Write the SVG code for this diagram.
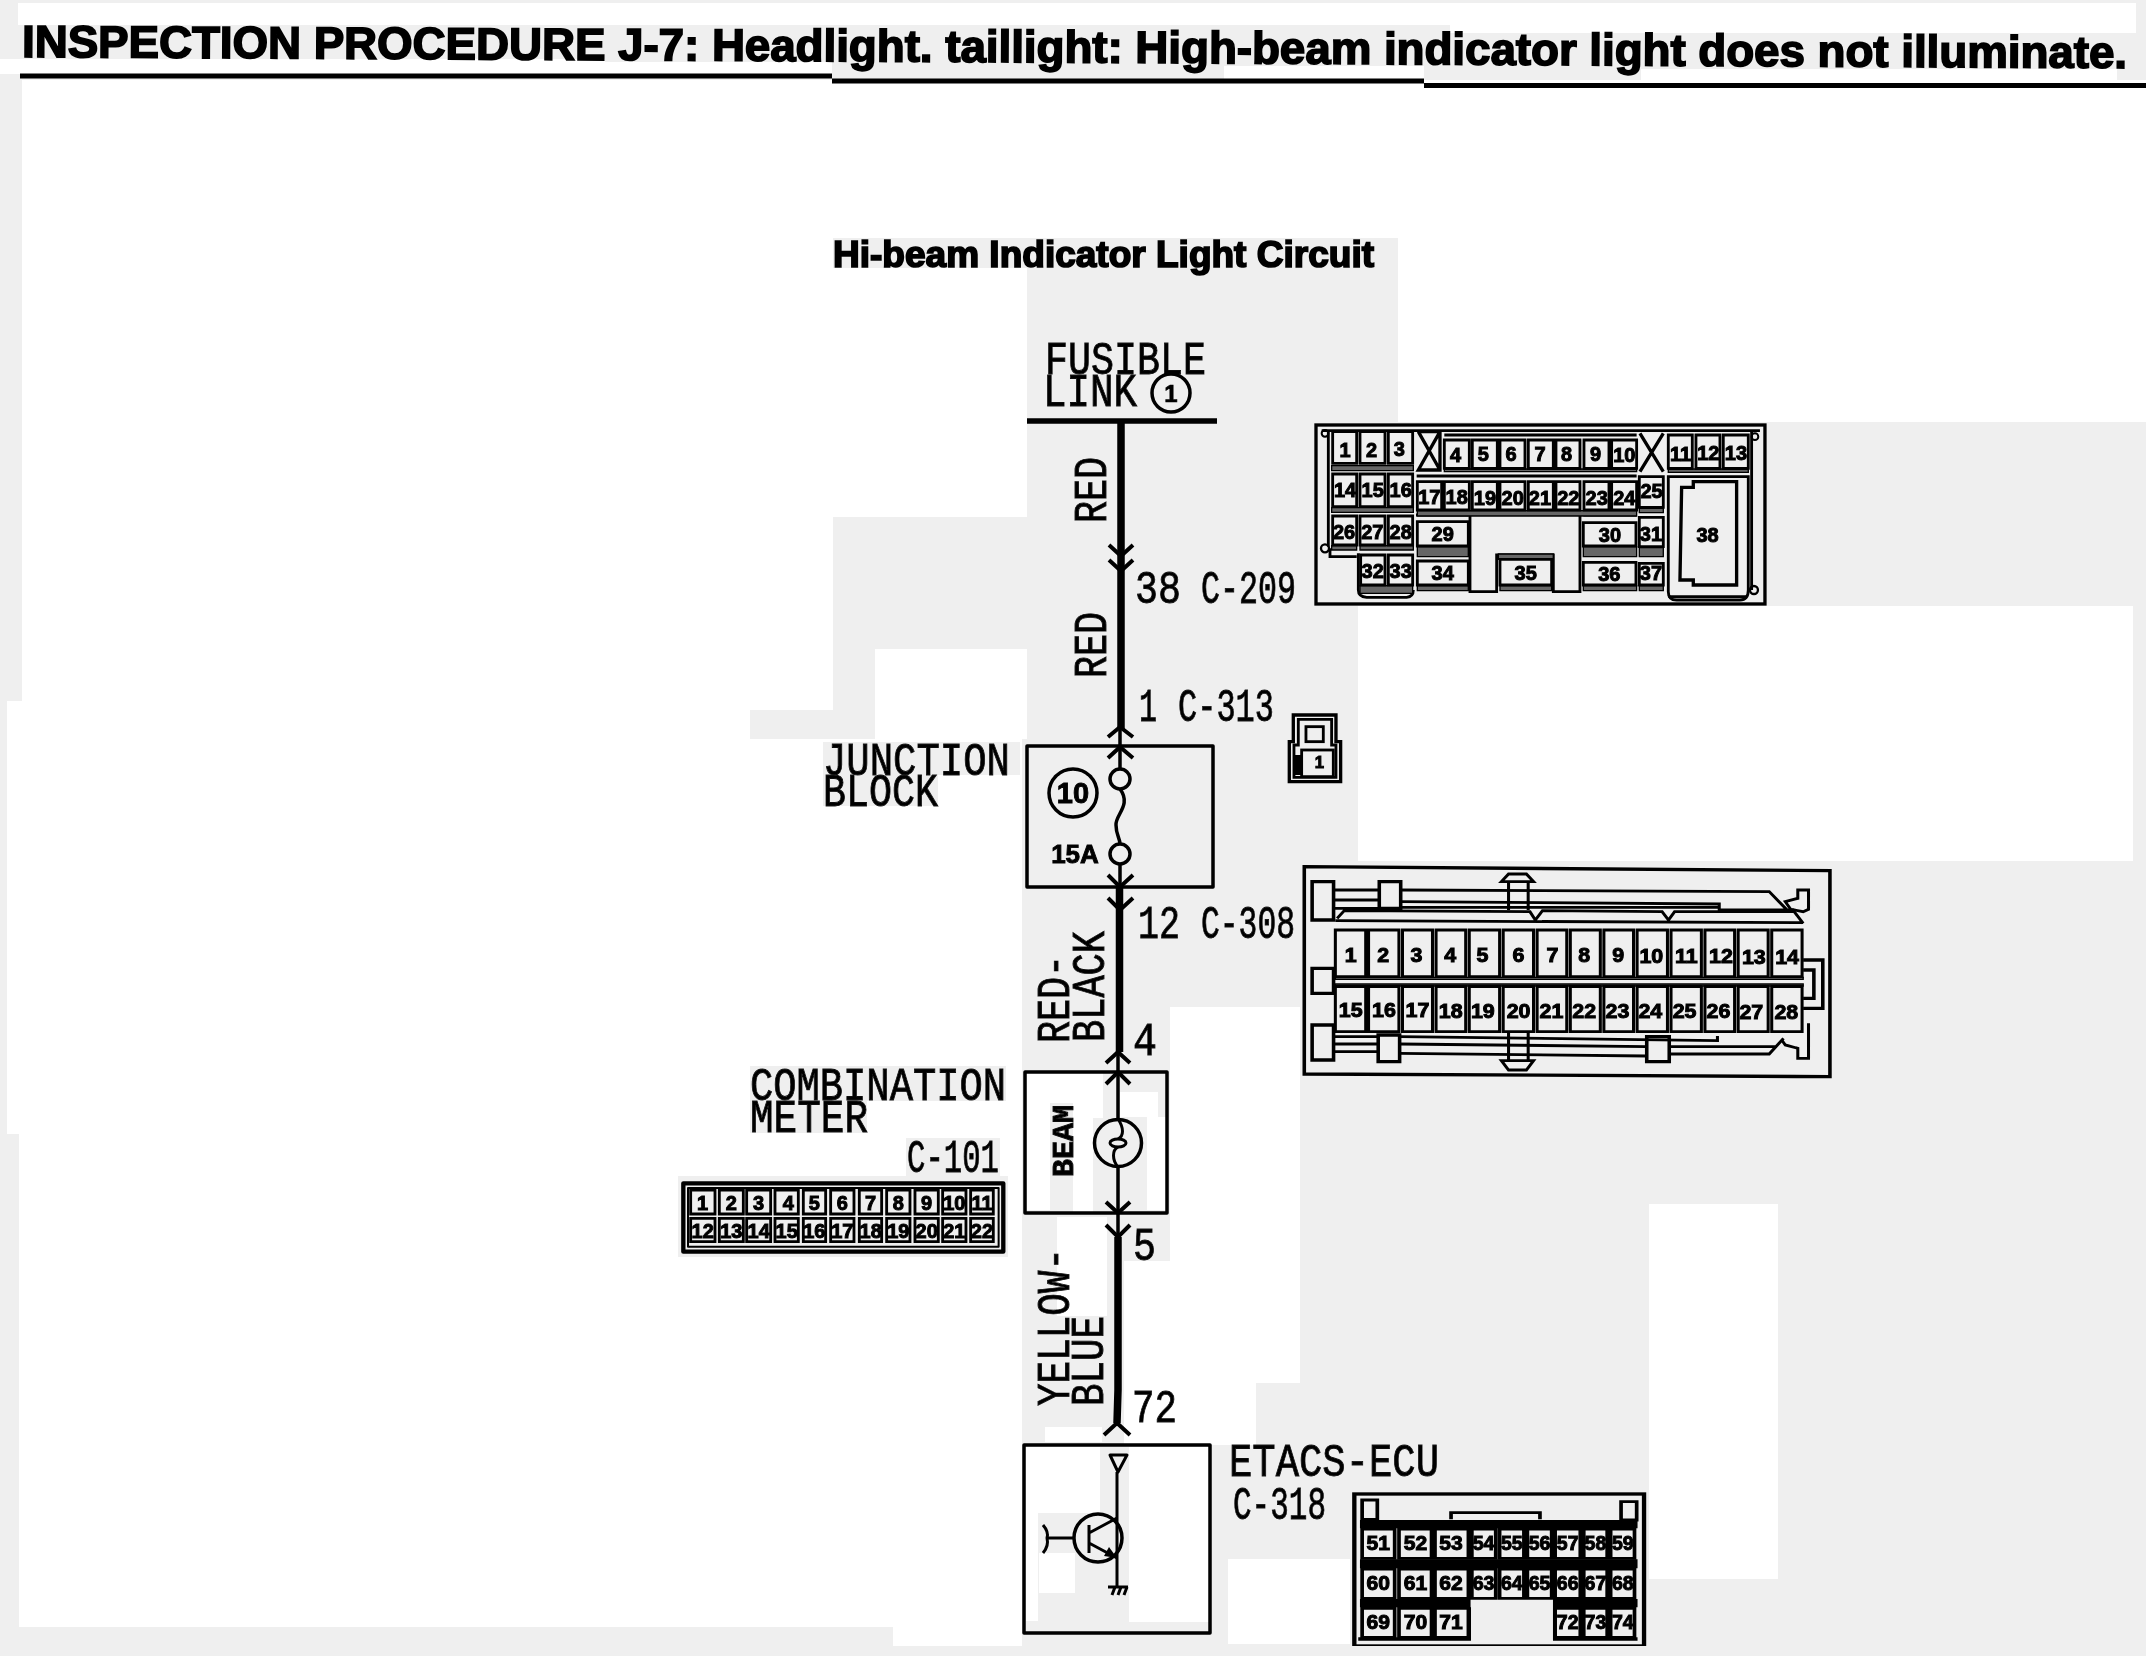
<svg xmlns="http://www.w3.org/2000/svg" width="2146" height="1656" viewBox="0 0 2146 1656">
<defs>
<filter id="soft" x="0" y="0" width="1" height="1" filterUnits="objectBoundingBox"><feGaussianBlur stdDeviation="0.6"/></filter>
</defs>
<style>
.w{fill:#fff}.g{fill:#efefef}
text{fill:#000}
.t{font-family:"Liberation Sans",Arial,sans-serif;font-weight:700;stroke:#000;stroke-width:1.7}
.m{font-family:"Liberation Mono","Courier New",monospace;font-size:47px;stroke:#111;stroke-width:.9}
.n{font-family:"Liberation Sans",Arial,sans-serif;font-weight:700;text-anchor:middle;font-size:60px;stroke:#000;stroke-width:3}
.s{fill:none;stroke:#000;stroke-linejoin:round}
.c{fill:none;stroke:#000;stroke-width:10}
.l{fill:none;stroke:#000;stroke-width:8.500}
.b{fill:#666;stroke:#000;stroke-width:4}
.k{fill:#000}
.wire{fill:none;stroke:#000}
.chev{fill:none;stroke:#000;stroke-width:4}
</style>
<rect class="g" width="2146" height="1656"/>
<g id="background">
<rect class="w" x="18" y="3" width="2118" height="22"/><rect class="w" x="1450" y="25" width="686" height="8"/>
<rect class="w" x="0" y="59" width="605" height="15"/><rect class="w" x="605" y="62" width="227" height="12"/><rect class="w" x="1224" y="66" width="200" height="13"/><rect class="w" x="1641" y="69" width="476" height="13"/>
<rect class="w" x="22" y="80" width="2124" height="158"/>
<rect class="w" x="22" y="238" width="811" height="463"/>
<rect class="w" x="833" y="268" width="194" height="249"/>
<rect class="w" x="875" y="649" width="152" height="90"/>
<rect class="w" x="7" y="701" width="743" height="433"/><rect class="w" x="750" y="701" width="83" height="9"/>
<rect class="w" x="750" y="739" width="272" height="395"/>
<rect class="w" x="19" y="1134" width="1003" height="493"/>
<rect class="w" x="893" y="1627" width="129" height="19"/>
<rect class="g" x="823" y="742" width="197" height="33"/><rect class="g" x="823" y="775" width="115" height="31"/>
<rect class="g" x="750" y="1066" width="256" height="35"/><rect class="g" x="750" y="1101" width="117" height="32"/>
<rect class="g" x="906" y="1138" width="94" height="38"/><rect class="g" x="678" y="1176" width="330" height="81"/>
<rect class="w" x="1398" y="238" width="748" height="184"/>
<rect class="w" x="1358" y="606" width="775" height="255"/>
<rect class="w" x="1170" y="1007" width="130" height="254"/><rect class="w" x="1124" y="1261" width="176" height="122"/><rect class="w" x="1124" y="1383" width="132" height="62"/>
<rect class="w" x="1057" y="1217" width="50" height="99"/><rect class="w" x="1045" y="1427" width="57" height="15"/>
<rect class="g" x="1123" y="1230" width="47" height="30"/>
<rect class="w" x="1649" y="1204" width="129" height="375"/>
<rect class="w" x="1228" y="1559" width="122" height="85"/>
<rect class="w" x="1027" y="1073" width="23" height="137"/><rect class="w" x="1027" y="1073" width="76" height="30"/><rect class="w" x="1073" y="1103" width="20" height="109"/><rect class="w" x="1093" y="1073" width="10" height="45"/>
<rect class="w" x="1120" y="1092" width="38" height="25"/><rect class="w" x="1147" y="1117" width="20" height="93"/>
<rect class="w" x="1129" y="1447" width="81" height="175"/><rect class="w" x="1026" y="1447" width="74" height="66"/><rect class="w" x="1026" y="1513" width="12" height="108"/><rect class="w" x="1039" y="1553" width="36" height="40"/>
</g>
<g filter="url(#soft)">
<g id="title">
<text class="t" font-size="45" transform="rotate(.3 22 57)" x="22" y="57" textLength="2105" lengthAdjust="spacingAndGlyphs">INSPECTION PROCEDURE J-7: Headlight. taillight: High-beam indicator light does not illuminate.</text>
<path class="s" stroke-width="5" d="M20,76H832M832,81H1424"/><path class="s" stroke-width="5" d="M1424,85.500H2146"/>
<text class="t" font-size="36" x="833" y="267" textLength="541" lengthAdjust="spacingAndGlyphs">Hi-beam Indicator Light Circuit</text>
</g>
<g id="connectors">
<path class="wire" stroke-width="7.500" d="M1121,421V729M1119.500,887V1052M1118,1237V1390L1117,1423"/>
<path class="wire" stroke-width="3.500" d="M1120,729V769M1120,864V887M1118,1052V1119M1118,1167V1237"/>
<path class="chev" d="M1109,545L1121,556L1133,545M1109,560L1121,571L1133,560"/>
<path class="chev" d="M1108,737L1120,727L1133,737M1108,758L1120,747L1133,758"/>
<path class="chev" d="M1108,875L1120,887L1133,875M1108,898L1120,910L1133,898"/>
<path class="chev" d="M1106,1063L1118,1052L1130,1063M1106,1084L1118,1072L1130,1084"/>
<path class="chev" d="M1106,1202L1118,1213L1130,1202M1106,1225L1118,1237L1130,1225"/>
<path class="chev" d="M1104,1435L1117,1423L1130,1435"/>
</g>
<g id="fusible-link">
<path class="s" stroke-width="5.500" d="M1027,421H1217"/>
<text class="m" x="1045" y="374" textLength="161" lengthAdjust="spacingAndGlyphs">FUSIBLE</text>
<text class="m" x="1043" y="406" textLength="94" lengthAdjust="spacingAndGlyphs">LINK</text>
<circle class="s" stroke-width="3.500" cx="1171" cy="393" r="19"/>
<text class="n" style="font-size:24px;stroke-width:.6" x="1171" y="402">1</text>
</g>
<g id="wire-labels">
<text class="m" transform="translate(1106,523) rotate(-90)" textLength="66" lengthAdjust="spacingAndGlyphs">RED</text>
<text class="m" transform="translate(1106,678) rotate(-90)" textLength="66" lengthAdjust="spacingAndGlyphs">RED</text>
<text class="m" transform="translate(1069,1043) rotate(-90)" textLength="88" lengthAdjust="spacingAndGlyphs">RED-</text>
<text class="m" transform="translate(1104,1042) rotate(-90)" textLength="111" lengthAdjust="spacingAndGlyphs">BLACK</text>
<text class="m" transform="translate(1069,1406) rotate(-90)" textLength="158" lengthAdjust="spacingAndGlyphs">YELLOW-</text>
<text class="m" transform="translate(1103,1406) rotate(-90)" textLength="90" lengthAdjust="spacingAndGlyphs">BLUE</text>
<text class="m" x="1135" y="603" textLength="46" lengthAdjust="spacingAndGlyphs">38</text>
<text class="m" x="1201" y="603" textLength="95" lengthAdjust="spacingAndGlyphs">C-209</text>
<text class="m" x="1139" y="721" textLength="18" lengthAdjust="spacingAndGlyphs">1</text>
<text class="m" x="1178" y="721" textLength="96" lengthAdjust="spacingAndGlyphs">C-313</text>
<text class="m" x="1138" y="938" textLength="42" lengthAdjust="spacingAndGlyphs">12</text>
<text class="m" x="1201" y="938" textLength="94" lengthAdjust="spacingAndGlyphs">C-308</text>
<text class="m" x="1133" y="1055" textLength="24" lengthAdjust="spacingAndGlyphs">4</text>
<text class="m" x="1133" y="1260" textLength="23" lengthAdjust="spacingAndGlyphs">5</text>
<text class="m" x="1132" y="1422" textLength="45" lengthAdjust="spacingAndGlyphs">72</text>
</g>
<g id="junction-block">
<rect class="s" stroke-width="3.500" x="1027" y="746" width="186" height="141"/>
<text class="m" x="823" y="775" textLength="187" lengthAdjust="spacingAndGlyphs">JUNCTION</text>
<text class="m" x="823" y="806" textLength="115" lengthAdjust="spacingAndGlyphs">BLOCK</text>
<circle class="s" stroke-width="3.500" cx="1073" cy="793" r="24"/>
<text class="n" style="font-size:29px;stroke-width:.9" x="1073" y="803">10</text>
<text class="n" style="font-size:26px;stroke-width:.9" x="1075" y="863">15A</text>
<circle class="s" stroke-width="3.500" cx="1120" cy="779" r="10"/><circle class="s" stroke-width="3.500" cx="1120" cy="854" r="10"/>
<path class="s" stroke-width="3.500" d="M1120,789C1132,805 1115,815 1116,825C1116,835 1120,838 1120,844"/>
</g>
<g id="connector-c313" transform="translate(1000,700) scale(.3333)">
<path class="c" d="M880,45H1008V125H1022V245H868V125H880Z"/><path class="l" d="M895,58H995V135H1008V232H882V135H895Z"/>
<rect class="l" x="918" y="80" width="52" height="45"/><rect class="l" x="905" y="150" width="95" height="80"/>
<rect class="k" x="885" y="165" width="20" height="60"/>
<text class="n" style="font-size:50px" x="958" y="205">1</text>
</g>
<g id="connector-c209" transform="translate(1290,400) scale(.3333)">
<rect class="c" x="78" y="75" width="1347" height="537"/>
<path class="l" d="M95,92H1410M463,105H1040M380,228H1040M115,95V440M1385,95V570M120,445L120,470L200,470M205,460V570Q205,590 230,592H350Q370,590 370,570M378,345H535M880,345H1040M540,345V575H620V465H790V575H870V345M1135,590L1370,590"/>
<circle class="s" stroke-width="6" cx="105" cy="100" r="10"/><circle class="s" stroke-width="6" cx="1395" cy="110" r="10"/><circle class="s" stroke-width="7" cx="105" cy="445" r="12"/><circle class="s" stroke-width="7" cx="1392" cy="570" r="12"/>
<path class="b" d="M125,197H370V212H125ZM463,207H1040V215H463ZM1135,207H1375V217H1135ZM125,323H370V337H125ZM382,332H1040V348H382ZM125,437H200V450H125ZM210,437H370V450H210ZM382,440H535V470H382ZM880,440H1040V470H880ZM1048,325H1120V338H1048ZM1048,443H1120V470H1048ZM210,557H368V580H210ZM382,557H535V572H382ZM630,557H785V572H630ZM880,557H1040V572H880ZM1048,557H1120V572H1048ZM625,462H790V478H625Z"/>
<g class="l"><path d="M128,95H200V190H128ZM210,95H285V190H210ZM295,95H368V190H295ZM463,120H538V205H463ZM547,120H622V205H547ZM630,120H705V205H630ZM715,120H790V205H715ZM798,120H870V205H798ZM882,120H957V205H882ZM965,120H1040V205H965ZM1135,105H1207V205H1135ZM1218,105H1290V205H1218ZM1300,105H1375V205H1300ZM128,222H200V320H128ZM210,222H285V320H210ZM295,222H368V320H295ZM382,245H455V330H382ZM463,245H538V330H463ZM547,245H622V330H547ZM630,245H705V330H630ZM715,245H790V330H715ZM798,245H870V330H798ZM882,245H957V330H882ZM965,245H1040V330H965ZM1048,230H1120V322H1048ZM128,348H200V435H128ZM210,348H285V435H210ZM295,348H368V435H295ZM382,365H535V438H382ZM880,368H1038V438H880ZM1048,352H1120V440H1048ZM212,465H285V555H212ZM295,465H368V555H295ZM382,483H535V555H382ZM630,478H785V555H630ZM880,487H1038V555H880ZM1048,490H1120V555H1048Z"/></g>
<path class="c" d="M385,95L450,210M450,95L385,210H450V95H385ZM1050,100L1120,215M1120,100L1050,215"/>
<path class="l" d="M1135,230H1375V570Q1375,600 1350,600H1160Q1135,600 1135,575Z"/>
<path class="c" d="M1175,262H1210V245H1340V555H1210V540H1170Z"/>
<g class="n"><text x="165" y="170">1</text><text x="245" y="170">2</text><text x="328" y="167">3</text><text x="497" y="187">4</text><text x="580" y="184">5</text><text x="663" y="184">6</text><text x="750" y="182">7</text><text x="830" y="184">8</text><text x="917" y="184">9</text><text x="1003" y="187">10</text><text x="1172" y="182">11</text><text x="1255" y="179">12</text><text x="1338" y="179">13</text>
<text x="165" y="290">14</text><text x="248" y="290">15</text><text x="332" y="290">16</text><text x="418" y="312">17</text><text x="500" y="312">18</text><text x="585" y="314">19</text><text x="668" y="314">20</text><text x="750" y="314">21</text><text x="835" y="314">22</text><text x="920" y="314">23</text><text x="1003" y="314">24</text><text x="1085" y="295">25</text>
<text x="162" y="417">26</text><text x="247" y="417">27</text><text x="332" y="417">28</text><text x="458" y="424">29</text><text x="960" y="425">30</text><text x="1083" y="424">31</text><text x="1253" y="425">38</text>
<text x="248" y="535">32</text><text x="332" y="535">33</text><text x="458" y="540">34</text><text x="707" y="540">35</text><text x="958" y="542">36</text><text x="1083" y="540">37</text></g>
</g>
<g id="connector-c308" transform="translate(1280,850) scale(.3571,.3333)">
<path class="c" d="M68,50L1540,62V680L68,672Z"/>
<path class="c" d="M90,95H150V210H90ZM90,355H150V430H90ZM90,525H150V630H90ZM278,95H338V175H278ZM275,555H335V635H275ZM1027,560H1090V635H1027Z"/>
<path class="l" d="M620,95L640,72H690L710,95ZM640,95V180M695,95V180M620,632L640,660H690L710,632ZM640,548V632M695,548V632"/>
<path class="l" d="M150,120H278M338,120L1370,125L1420,180M150,150H278M338,155L1230,162V180H1440M150,175H278M338,172H1230M160,205L180,182L700,185L715,210L735,182L1070,185L1088,210L1105,185L1440,185L1465,220M155,212L1465,218M150,560H275M335,560L1225,572V558M150,582H275M335,582L1027,590M150,605H275M335,610L1027,618M1090,590L1390,590M1090,612H1370L1410,565"/>
<path class="l" d="M1480,120V178L1465,185L1430,178L1415,155L1450,145V120ZM1480,520V625H1450V595L1415,585L1405,570"/>
<path class="c" d="M1465,330H1520V475H1465M1465,360H1495V445H1465"/>
<path class="b" d="M155,382H1465V388H155ZM155,402H1465V408H155Z"/>
<g class="l"><path d="M155,240H240V380H155ZM248,240H333V380H248ZM343,240H427V380H343ZM437,240H520V380H437ZM530,240H615V380H530ZM625,240H710V380H625ZM720,240H803V380H720ZM813,240H897V380H813ZM907,240H990V380H907ZM1000,240H1085V380H1000ZM1095,240H1180V380H1095ZM1190,240H1273V380H1190ZM1283,240H1367V380H1283ZM1377,240H1462V380H1377Z"/>
<path d="M155,410H240V545H155ZM248,410H333V545H248ZM343,410H427V545H343ZM437,410H520V545H437ZM530,410H615V545H530ZM625,410H710V545H625ZM720,410H803V545H720ZM813,410H897V545H813ZM907,410H990V545H907ZM1000,410H1085V545H1000ZM1095,410H1180V545H1095ZM1190,410H1273V545H1190ZM1283,410H1367V545H1283ZM1377,410H1462V545H1377Z"/></g>
<g class="n"><text x="198" y="335">1</text><text x="289" y="335">2</text><text x="382" y="335">3</text><text x="477" y="335">4</text><text x="567" y="335">5</text><text x="668" y="337">6</text><text x="763" y="335">7</text><text x="852" y="337">8</text><text x="947" y="337">9</text><text x="1040" y="339">10</text><text x="1138" y="339">11</text><text x="1235" y="340">12</text><text x="1327" y="341">13</text><text x="1420" y="341">14</text>
<text x="198" y="500">15</text><text x="291" y="501">16</text><text x="385" y="501">17</text><text x="478" y="503">18</text><text x="568" y="503">19</text><text x="668" y="505">20</text><text x="760" y="505">21</text><text x="852" y="505">22</text><text x="945" y="505">23</text><text x="1037" y="505">24</text><text x="1133" y="505">25</text><text x="1228" y="505">26</text><text x="1320" y="507">27</text><text x="1418" y="507">28</text></g>
</g>
<g id="combination-meter">
<rect class="s" stroke-width="3.500" x="1025" y="1072" width="142" height="141"/>
<text class="m" x="750" y="1100" textLength="256" lengthAdjust="spacingAndGlyphs">COMBINATION</text>
<text class="m" x="750" y="1132" textLength="118" lengthAdjust="spacingAndGlyphs">METER</text>
<text class="m" x="907" y="1172" textLength="92" lengthAdjust="spacingAndGlyphs">C-101</text>
<text class="m" style="font-size:29px;font-weight:700" transform="translate(1073,1177) rotate(-90)" textLength="72" lengthAdjust="spacingAndGlyphs">BEAM</text>
<circle class="s" stroke-width="3.500" cx="1118" cy="1143" r="23.500"/>
<ellipse class="s" stroke-width="3" cx="1118" cy="1143" rx="8" ry="4"/>
<path class="s" stroke-width="3" d="M1118,1119C1124,1128 1124,1136 1118,1139M1118,1147C1112,1150 1112,1160 1118,1167"/>
</g>
<g id="connector-c101" transform="translate(660,1040) scale(.3333)">
<rect class="s" stroke-width="13" x="70" y="430" width="960" height="205"/><rect class="s" stroke-width="6" x="84" y="444" width="932" height="176"/>
<path class="l" d="M92,450H165V522H92ZM178,450H250V522H178ZM260,450H332V522H260ZM345,450H415V522H345ZM430,450H497V522H430ZM512,450H582V522H512ZM598,450H665V522H598ZM680,450H750V522H680ZM765,450H835V522H765ZM848,450H918V522H848ZM932,450H1000V522H932Z"/>
<path class="l" d="M92,535H165V605H92ZM178,535H250V605H178ZM260,535H332V605H260ZM345,535H415V605H345ZM430,535H497V605H430ZM512,535H582V605H512ZM598,535H665V605H598ZM680,535H750V605H680ZM765,535H835V605H765ZM848,535H918V605H848ZM932,535H1000V605H932Z"/>
<g class="n"><text x="128" y="510">1</text><text x="214" y="510">2</text><text x="296" y="510">3</text><text x="385" y="510">4</text><text x="463" y="510">5</text><text x="547" y="510">6</text><text x="632" y="510">7</text><text x="715" y="510">8</text><text x="800" y="510">9</text><text x="883" y="510">10</text><text x="966" y="510">11</text>
<text x="128" y="593">12</text><text x="214" y="593">13</text><text x="296" y="593">14</text><text x="380" y="593">15</text><text x="463" y="593">16</text><text x="547" y="593">17</text><text x="632" y="593">18</text><text x="715" y="593">19</text><text x="800" y="593">20</text><text x="883" y="593">21</text><text x="966" y="593">22</text></g>
</g>
<g id="etacs-ecu">
<rect class="s" stroke-width="3.500" x="1024" y="1445" width="186" height="188"/>
<text class="m" x="1229" y="1476" textLength="210" lengthAdjust="spacingAndGlyphs">ETACS-ECU</text>
<text class="m" x="1233" y="1519" textLength="93" lengthAdjust="spacingAndGlyphs">C-318</text>
<path class="s" stroke-width="3" d="M1110,1455H1127L1118,1472ZM1117,1472V1587M1108,1587H1128M1112,1595L1115,1587M1118,1595L1121,1587M1124,1595L1127,1587"/>
<circle class="s" stroke-width="3.500" cx="1098" cy="1538" r="24"/>
<path class="s" stroke-width="3" d="M1043,1525Q1049,1532 1047,1538Q1049,1546 1043,1553M1047,1538H1074M1089,1525V1553M1089,1533L1117,1518M1089,1543L1117,1558"/>
<path class="k" d="M1117,1558L1104,1556L1109,1547Z"/>
</g>
<g id="connector-c318" transform="translate(1000,1400) scale(.4337,.3333)">
<rect class="c" stroke-width="13" x="817" y="282" width="668" height="456"/>
<path class="l" d="M835,300H870V358H835ZM1432,305H1468V360H1432ZM1040,358V338H1245V358"/>
<path class="k" d="M830,360H1470V385H830ZM830,478H1470V505H830ZM830,597H1085V622H830ZM1275,597H1470V622H1275ZM826,712H1085V722H826ZM1275,712H1470V722H1275ZM1275,622H1283V722H1275ZM1078,622H1086V722H1078Z"/>
<path class="l" d="M835,387H910V475H835ZM920,387H995V475H920ZM1003,387H1080V475H1003ZM1088,387H1143V475H1088ZM1152,387H1208V475H1152ZM1216,387H1272V475H1216ZM1280,387H1338V475H1280ZM1346,387H1400V475H1346ZM1408,387H1463V475H1408Z"/>
<path class="l" d="M835,507H910V595H835ZM920,507H995V595H920ZM1003,507H1080V595H1003ZM1088,507H1143V595H1088ZM1152,507H1208V595H1152ZM1216,507H1272V595H1216ZM1280,507H1338V595H1280ZM1346,507H1400V595H1346ZM1408,507H1463V595H1408Z"/>
<path class="l" d="M835,625H910V712H835ZM920,625H995V712H920ZM1003,625H1080V712H1003ZM1280,625H1338V712H1280ZM1346,625H1400V712H1346ZM1408,625H1463V712H1408Z"/>
<g class="n" style="font-size:58px"><text x="872" y="450" textLength="54" lengthAdjust="spacingAndGlyphs">51</text><text x="958" y="450" textLength="54" lengthAdjust="spacingAndGlyphs">52</text><text x="1040" y="450" textLength="54" lengthAdjust="spacingAndGlyphs">53</text><text x="1115" y="450" textLength="50" lengthAdjust="spacingAndGlyphs">54</text><text x="1180" y="450" textLength="50" lengthAdjust="spacingAndGlyphs">55</text><text x="1244" y="450" textLength="50" lengthAdjust="spacingAndGlyphs">56</text><text x="1309" y="450" textLength="50" lengthAdjust="spacingAndGlyphs">57</text><text x="1373" y="450" textLength="50" lengthAdjust="spacingAndGlyphs">58</text><text x="1436" y="450" textLength="50" lengthAdjust="spacingAndGlyphs">59</text>
<text x="872" y="570" textLength="54" lengthAdjust="spacingAndGlyphs">60</text><text x="958" y="570" textLength="54" lengthAdjust="spacingAndGlyphs">61</text><text x="1040" y="570" textLength="54" lengthAdjust="spacingAndGlyphs">62</text><text x="1115" y="570" textLength="50" lengthAdjust="spacingAndGlyphs">63</text><text x="1180" y="570" textLength="50" lengthAdjust="spacingAndGlyphs">64</text><text x="1244" y="570" textLength="50" lengthAdjust="spacingAndGlyphs">65</text><text x="1309" y="570" textLength="50" lengthAdjust="spacingAndGlyphs">66</text><text x="1373" y="570" textLength="50" lengthAdjust="spacingAndGlyphs">67</text><text x="1436" y="570" textLength="50" lengthAdjust="spacingAndGlyphs">68</text>
<text x="872" y="688" textLength="54" lengthAdjust="spacingAndGlyphs">69</text><text x="958" y="688" textLength="54" lengthAdjust="spacingAndGlyphs">70</text><text x="1040" y="688" textLength="54" lengthAdjust="spacingAndGlyphs">71</text><text x="1309" y="688" textLength="50" lengthAdjust="spacingAndGlyphs">72</text><text x="1373" y="688" textLength="50" lengthAdjust="spacingAndGlyphs">73</text><text x="1436" y="688" textLength="50" lengthAdjust="spacingAndGlyphs">74</text></g>
</g>
</g>
</svg>
